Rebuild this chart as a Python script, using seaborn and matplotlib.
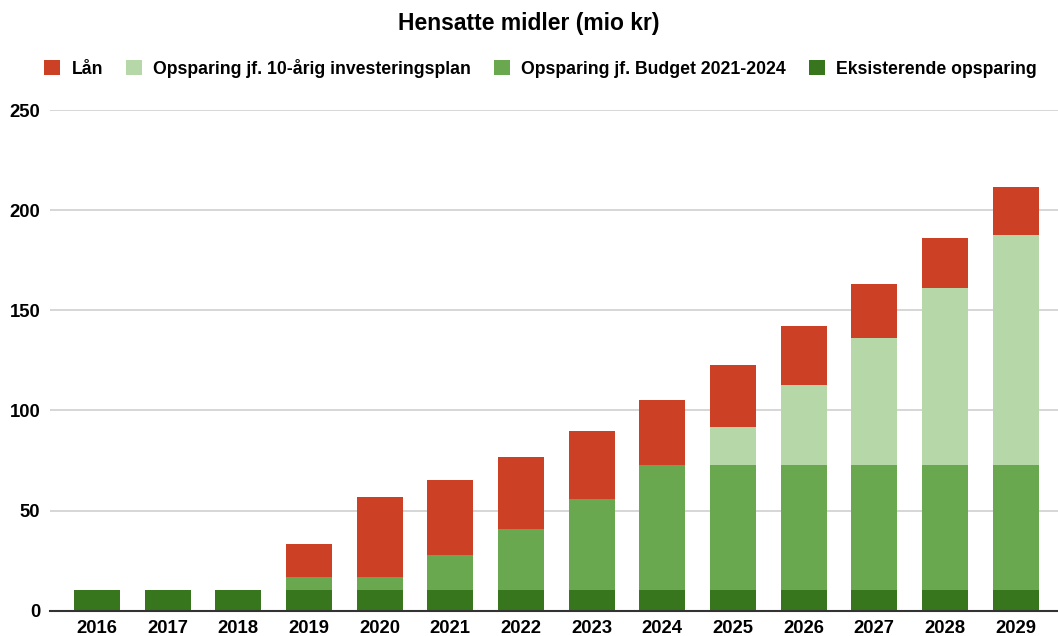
import numpy as np
import pandas as pd
import matplotlib
matplotlib.use("Agg")
import matplotlib.pyplot as plt
import seaborn as sns
from matplotlib.patches import Patch

# Data (mio kr)
years = ["2016", "2017", "2018", "2019", "2020", "2021", "2022",
         "2023", "2024", "2025", "2026", "2027", "2028", "2029"]
eksisterende = [10.1, 10.1, 10.1, 10.1, 10.1, 10.1, 10.1, 10.1, 10.1, 10.1, 10.1, 10.1, 10.1, 10.1]
budget = [0, 0, 0, 6.9, 6.9, 17.6, 30.6, 45.6, 62.8, 62.8, 62.8, 62.8, 62.8, 62.8]
tiaarig = [0, 0, 0, 0, 0, 0, 0, 0, 0, 19.0, 40.0, 63.2, 88.5, 115.0]
laan = [0, 0, 0, 16.3, 39.5, 37.5, 36.0, 34.0, 32.5, 30.7, 29.3, 27.1, 25.0, 23.8]

labels = ["Lån", "Opsparing jf. 10-årig investeringsplan",
          "Opsparing jf. Budget 2021-2024", "Eksisterende opsparing"]
colors = ["#CC4125", "#B6D7A8", "#6AA84F", "#38761D"]

# Cumulative tops so layers can be drawn from the top down
df = pd.DataFrame({"year": years, "eks": eksisterende, "bud": budget,
                   "ti": tiaarig, "laan": laan})
df["c_eks"] = df["eks"]
df["c_bud"] = df["c_eks"] + df["bud"]
df["c_ti"] = df["c_bud"] + df["ti"]
df["c_laan"] = df["c_ti"] + df["laan"]

sns.set_theme(style="white")
plt.rcParams["font.family"] = ["Liberation Sans", "DejaVu Sans"]
plt.rcParams["text.color"] = "black"

fig = plt.figure(figsize=(10.58, 6.36), dpi=100)
ax = fig.add_axes([0.0473, 0.040, 0.9527, 0.7866])

for col, color in zip(["c_laan", "c_ti", "c_bud", "c_eks"], colors):
    sns.barplot(data=df, x="year", y=col, color=color, width=0.65,
                linewidth=0, saturation=1, ax=ax, zorder=3)

ax.set_ylim(0, 250)
ax.set_xlim(-0.665, 13.6)
ax.set_yticks([0, 50, 100, 150, 200, 250])
ax.set_xlabel("")
ax.set_ylabel("")
ax.grid(axis="y", color="#cccccc", linewidth=1.1, zorder=0)
ax.grid(axis="x", visible=False)
for side in ["top", "right", "left"]:
    ax.spines[side].set_visible(False)
ax.spines["bottom"].set_color("#333333")
ax.spines["bottom"].set_linewidth(1.5)
ax.spines["bottom"].set_zorder(5)
ax.tick_params(axis="both", length=0, labelsize=13.3, labelcolor="black")
ax.tick_params(axis="y", pad=7)
ax.tick_params(axis="x", pad=6.5)
for t in ax.get_xticklabels() + ax.get_yticklabels():
    t.set_fontweight("bold")

fig.text(0.5, 0.963, "Hensatte midler (mio kr)", ha="center", va="center",
         fontsize=16.5, fontweight="bold", color="black")

handles = [Patch(facecolor=c, edgecolor="none") for c in colors]
leg = fig.legend(handles, labels, loc="center", bbox_to_anchor=(0.511, 0.8926),
                 ncol=4, frameon=False, prop={"weight": "bold", "size": 12.7},
                 handlelength=0.91, handleheight=0.91, handletextpad=0.65,
                 columnspacing=1.28, borderaxespad=0)
for t in leg.get_texts():
    t.set_color("black")

fig.savefig("out.png", dpi=100)
